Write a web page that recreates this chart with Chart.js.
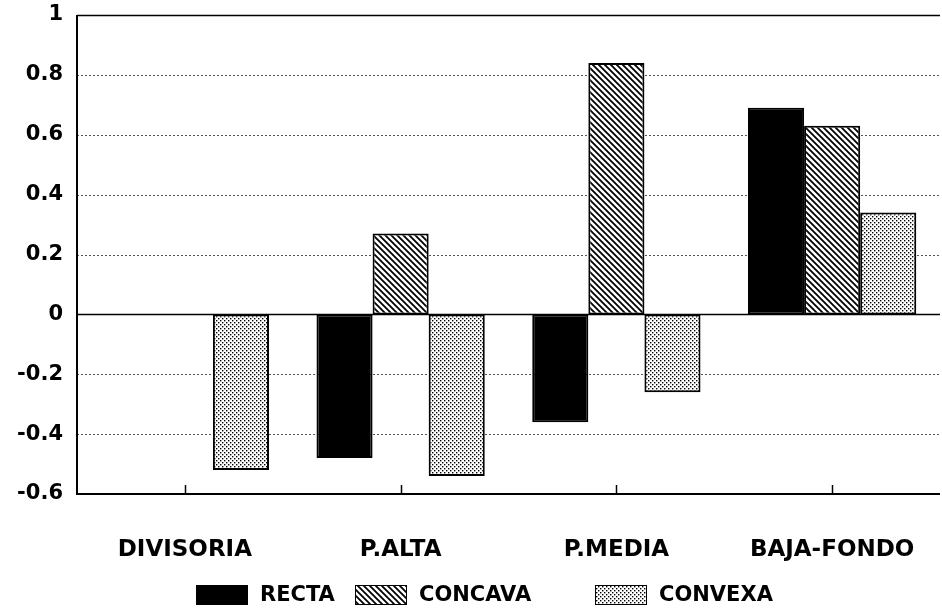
<!DOCTYPE html>
<html lang="es">
<head>
<meta charset="UTF-8">
<script src="https://cdn.jsdelivr.net/npm/chart.js"></script>
<title>Recta / Concava / Convexa</title>
<style>
  html, body { margin: 0; padding: 0; background: #fff; }
  #wrap { width: 942px; height: 609px; position: relative; }
</style>
</head>
<body>
<div id="wrap"><canvas id="barChart"></canvas></div>
<script>
// categories and series values
const categories = ['DIVISORIA', 'P.ALTA', 'P.MEDIA', 'BAJA-FONDO'];
const recta    = [null, -0.48, -0.36, 0.69];
const concava  = [null,  0.27,  0.84, 0.63];
const convexa  = [-0.52, -0.54, -0.26, 0.34];
const seriesNames = ['RECTA', 'CONCAVA', 'CONVEXA'];

const FONT = '"DejaVu Sans", sans-serif';

// hatch pattern: diagonal lines going down to the right
function makeHatch() {
    const c = document.createElement('canvas');
    c.width = 6; c.height = 6;
    const g = c.getContext('2d');
    g.fillStyle = '#fff';
    g.fillRect(0, 0, 6, 6);
    g.strokeStyle = '#000';
    g.lineWidth = 1.8;
    g.beginPath();
    g.moveTo(-1, -1); g.lineTo(7, 7);
    g.moveTo(-4, 2); g.lineTo(2, 8);
    g.moveTo(4, -2); g.lineTo(8, 2);
    g.stroke();
    return g.createPattern(c, 'repeat');
}

// stipple pattern: staggered small dots
function makeDots() {
    const c = document.createElement('canvas');
    c.width = 4; c.height = 4;
    const g = c.getContext('2d');
    g.fillStyle = '#fff';
    g.fillRect(0, 0, 4, 4);
    g.fillStyle = '#000';
    g.fillRect(0, 0, 1.4, 1.4);
    g.fillRect(2, 2, 1.4, 1.4);
    return g.createPattern(c, 'repeat');
}

const fills = ['#000', makeHatch(), makeDots()];

// grid lines, axis lines, inward ticks and the legend
const framePlugin = {
    id: 'frame',
    beforeDatasetsDraw(chart) {
        const { ctx, chartArea: a, scales: { y } } = chart;
        ctx.save();
        y.ticks.forEach(t => {
            const py = Math.round(y.getPixelForValue(t.value)) + 0.5;
            ctx.beginPath();
            if (Math.abs(t.value) < 1e-9 || Math.abs(t.value - y.max) < 1e-9) {
                ctx.setLineDash([]);
                ctx.strokeStyle = '#000';
                ctx.lineWidth = 1.5;
            } else {
                ctx.setLineDash([2, 2]);
                ctx.strokeStyle = '#555';
                ctx.lineWidth = 1;
            }
            ctx.moveTo(a.left, py);
            ctx.lineTo(a.right, py);
            ctx.stroke();
        });
        ctx.restore();
    },
    afterDatasetsDraw(chart) {
        const { ctx, chartArea: a, scales: { x } } = chart;
        ctx.save();
        ctx.strokeStyle = '#000';
        ctx.lineWidth = 2;
        ctx.beginPath();
        ctx.moveTo(a.left, a.top);
        ctx.lineTo(a.left, a.bottom);
        ctx.lineTo(a.right, a.bottom);
        ctx.stroke();
        // short ticks pointing up into the plot
        ctx.lineWidth = 1.5;
        categories.forEach((c, i) => {
            const px = Math.round(x.getPixelForValue(i)) + 0.5;
            ctx.beginPath();
            ctx.moveTo(px, a.bottom);
            ctx.lineTo(px, a.bottom - 9);
            ctx.stroke();
        });
        ctx.restore();
    },
    afterDraw(chart) {
        const ctx = chart.ctx;
        const boxX = [196, 355, 595];
        const cy = 595;
        ctx.save();
        ctx.font = 'bold 21px ' + FONT;
        ctx.textBaseline = 'middle';
        chart.data.datasets.forEach((ds, i) => {
            ctx.fillStyle = ds.backgroundColor;
            ctx.fillRect(boxX[i], cy - 10, 52, 20);
            ctx.strokeStyle = '#000';
            ctx.lineWidth = 1;
            ctx.strokeRect(boxX[i] + 0.5, cy - 9.5, 51, 19);
            ctx.fillStyle = '#000';
            ctx.fillText(ds.label, boxX[i] + 64, cy + 1);
        });
        ctx.restore();
    }
};

const ctx = document.getElementById('barChart').getContext('2d');

const chart = new Chart(ctx, {
    type: 'bar',
    data: {
        labels: categories,
        datasets: [recta, concava, convexa].map((vals, i) => ({
            label: seriesNames[i],
            data: vals,
            backgroundColor: fills[i],
            borderColor: '#000',
            borderWidth: 2,
            borderSkipped: false,
            categoryPercentage: 0.78,
            barPercentage: 1.0
        }))
    },
    options: {
        responsive: true,
        maintainAspectRatio: false,
        animation: false,
        layout: { padding: { top: 15, right: 2, left: 0, bottom: 0 } },
        plugins: {
            legend: { display: false },
            tooltip: { enabled: false }
        },
        scales: {
            x: {
                grid: { display: false, drawTicks: false },
                border: { display: false },
                ticks: {
                    color: '#000',
                    padding: 42,
                    maxRotation: 0,
                    font: { family: FONT, size: 23, weight: 'bold' }
                },
                afterFit(scale) {
                    scale.height = 115;
                    scale.paddingLeft = 0;
                    scale.paddingRight = 0;
                }
            },
            y: {
                min: -0.6,
                max: 1,
                grid: { display: false, drawTicks: false },
                border: { display: false },
                ticks: {
                    stepSize: 0.2,
                    color: '#000',
                    padding: 14,
                    font: { family: FONT, size: 21, weight: 'bold' },
                    callback: v => String(Math.round(v * 10) / 10)
                },
                afterFit(scale) {
                    scale.width = 77;
                    scale.paddingTop = 0;
                    scale.paddingBottom = 0;
                }
            }
        }
    },
    plugins: [framePlugin]
});
</script>
</body>
</html>
